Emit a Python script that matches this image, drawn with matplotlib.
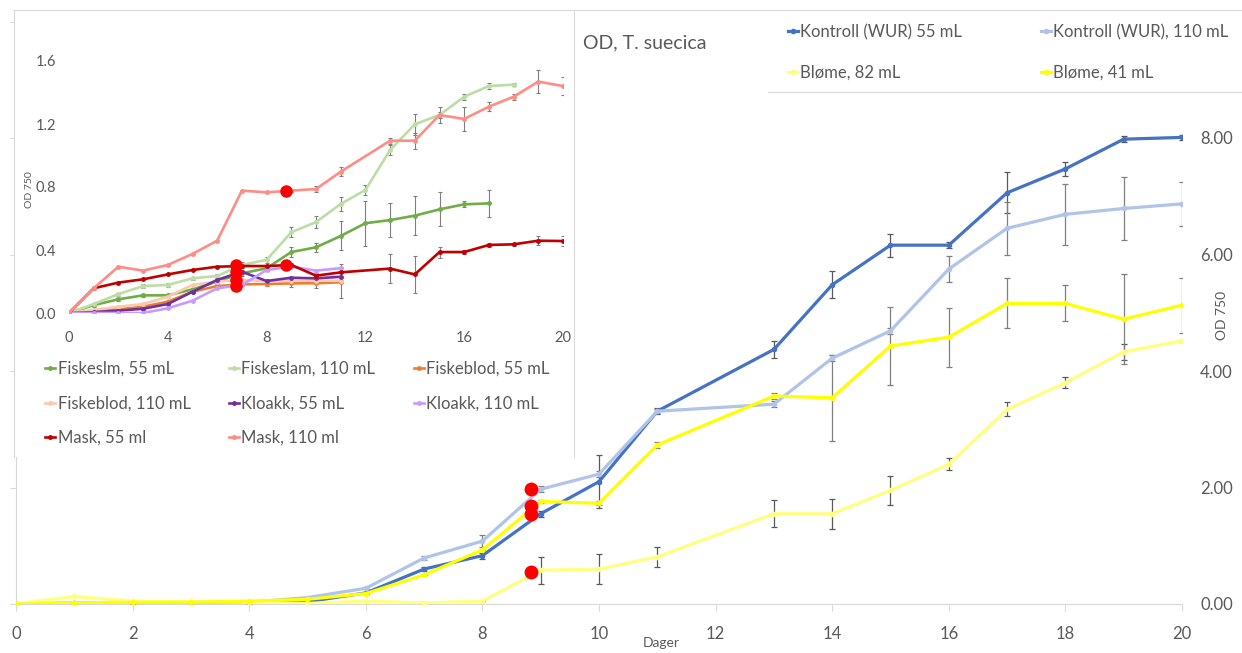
import matplotlib
matplotlib.use('Agg')
import matplotlib.pyplot as plt
from matplotlib.lines import Line2D
from matplotlib.patches import Rectangle

plt.rcParams['font.family'] = ['Lato', 'DejaVu Sans']

W, H = 1242, 653
TXT = '#595959'
AXIS = '#D9D9D9'

# Hovedforsøk, OD 750 (T. suecica)
dager = [0, 1, 2, 3, 4, 5, 6, 7, 8, 9, 10, 11, 13, 14, 15, 16, 17, 18, 19, 20]
kontroll_55 = [0, 0.01, 0.02, 0.02, 0.02, 0.04, 0.19, 0.60, 0.83, 1.55, 2.10, 3.31,
               4.37, 5.48, 6.16, 6.16, 7.06, 7.47, 7.98, 8.01]
kontroll_110 = [0, 0.02, 0.03, 0.03, 0.03, 0.11, 0.27, 0.79, 1.08, 1.97, 2.23, 3.31,
                3.43, 4.22, 4.69, 5.75, 6.45, 6.69, 6.79, 6.87]
blome_82 = [0, 0.13, 0.05, 0.04, 0.03, 0.01, 0.05, 0.02, 0.05, 0.58, 0.60, 0.81,
            1.55, 1.55, 1.95, 2.40, 3.34, 3.80, 4.33, 4.52]
blome_41 = [0, 0.02, 0.03, 0.03, 0.05, 0.08, 0.18, 0.50, 0.93, 1.76, 1.73, 2.73,
            3.57, 3.54, 4.43, 4.58, 5.16, 5.16, 4.89, 5.13]

kontroll_55_sd = [0, 0, 0, 0, 0, 0, 0, 0.03, 0.05, 0.05, 0.45, 0.05,
                  0.14, 0.23, 0.20, 0.05, 0.35, 0.12, 0.05, 0.05]
kontroll_110_sd = [0, 0, 0, 0, 0, 0, 0.02, 0.03, 0.10, 0.05, 0.05, 0.03,
                   0.05, 0.05, 0.05, 0.23, 0.45, 0.52, 0.54, 0.38]
blome_82_sd = [0, 0, 0, 0, 0, 0, 0, 0, 0, 0.23, 0.26, 0.17,
               0.23, 0.26, 0.25, 0.10, 0.12, 0.09, 0.14, 0.02]
blome_41_sd = [0, 0, 0, 0, 0, 0, 0, 0, 0, 0.03, 0.03, 0.05,
               0.05, 0.74, 0.67, 0.51, 0.43, 0.31, 0.77, 0.47]

# Innfelt: andre medier
dager_kort = [0, 1, 2, 3, 4, 5, 6, 7, 8, 9, 10, 11]
dager_slm = [0, 1, 2, 3, 4, 5, 6, 7, 8, 9, 10, 11, 12, 13, 14, 15, 16, 17]
dager_slam = [0, 1, 2, 3, 4, 5, 6, 7, 8, 9, 10, 11, 12, 13, 14, 15, 16, 17, 18]
dager_mask = [0, 1, 2, 3, 4, 5, 6, 7, 8, 9, 10, 11, 13, 14, 15, 16, 17, 18, 19, 20]
fiskeslm_55 = [0, 0.05, 0.087, 0.112, 0.112, 0.15, 0.20, 0.252, 0.284, 0.387, 0.417, 0.489,
               0.57, 0.59, 0.618, 0.658, 0.69, 0.696]
fiskeslam_110 = [0, 0.057, 0.12, 0.171, 0.178, 0.22, 0.235, 0.305, 0.337, 0.513, 0.577, 0.692,
                 0.781, 1.035, 1.198, 1.257, 1.373, 1.441, 1.45]
fiskeblod_55 = [0, 0.01, 0.023, 0.04, 0.072, 0.135, 0.171, 0.182, 0.184, 0.188, 0.189, 0.195]
fiskeblod_110 = [0, 0.02, 0.04, 0.057, 0.104, 0.178, 0.20, 0.21, 0.203, 0.205, 0.205, 0.205]
kloakk_55 = [0, 0.005, 0.015, 0.027, 0.057, 0.135, 0.21, 0.262, 0.203, 0.224, 0.22, 0.23]
kloakk_110 = [0, 0, 0, 0, 0.03, 0.078, 0.157, 0.178, 0.273, 0.294, 0.269, 0.285]
mask_55 = [0, 0.157, 0.193, 0.214, 0.245, 0.273, 0.294, 0.298, 0.298, 0.305, 0.237, 0.258,
           0.282, 0.245, 0.387, 0.387, 0.432, 0.436, 0.459, 0.457]
mask_110 = [0, 0.157, 0.294, 0.269, 0.305, 0.375, 0.459, 0.777, 0.766, 0.777, 0.787, 0.897,
            1.094, 1.094, 1.257, 1.232, 1.31, 1.373, 1.469, 1.441]

fiskeslm_55_sd = [0, 0.01, 0.01, 0.01, 0.01, 0.01, 0.01, 0.02, 0.02, 0.03, 0.03, 0.092,
                  0.143, 0.108, 0.122, 0.108, 0.02, 0.085]
fiskeslam_110_sd = [0, 0, 0.01, 0.01, 0.01, 0.01, 0.01, 0.02, 0.02, 0.03, 0.04, 0.045,
                    0.03, 0.03, 0.067, 0.02, 0.02, 0.02, 0.01]
fiskeblod_55_sd = [0, 0, 0, 0, 0, 0.01, 0.01, 0.01, 0.01, 0.02, 0.03, 0.097]
mask_55_sd = [0, 0, 0, 0, 0, 0, 0, 0, 0, 0.01, 0.02, 0.05,
              0.09, 0.119, 0.035, 0.01, 0.01, 0.01, 0.03, 0.03]
mask_110_sd = [0, 0, 0, 0, 0, 0, 0, 0, 0, 0.01, 0.02, 0.03,
               0.02, 0.05, 0.05, 0.076, 0.03, 0.02, 0.074, 0.06]

# Røde punkter (prøvetaking)
prove_x = [8.83, 8.83, 8.83, 8.83]
prove_y = [1.97, 1.68, 1.545, 0.555]
prove_inn_x = [6.76, 6.76, 6.76, 6.76, 8.79, 8.79]
prove_inn_y = [0.305, 0.26, 0.21, 0.17, 0.305, 0.777]


def fx(px):
    return px / W


def fy(py):
    return 1 - py / H


fig = plt.figure(figsize=(W / 100, H / 100), dpi=100)

# ---------- hovedgraf ----------
ax = fig.add_axes([fx(16), fy(604), (1182 - 16) / W, (604 - 21.5) / H])
ax.set_xlim(0, 20)
ax.set_ylim(0, 10)

hoved = [
    (kontroll_55, kontroll_55_sd, '#4472C4', '#595959', 'Kontroll (WUR) 55 mL'),
    (kontroll_110, kontroll_110_sd, '#AFC4E8', '#7F7F7F', 'Kontroll (WUR), 110 mL'),
    (blome_82, blome_82_sd, '#FFFF80', '#595959', 'Bløme, 82 mL'),
    (blome_41, blome_41_sd, '#FFFF00', '#7F7F7F', 'Bløme, 41 mL'),
]
hoved_linjer = []
for verdier, sd, farge, efarge, navn in hoved:
    ax.errorbar(dager, verdier, yerr=sd, fmt='none', ecolor=efarge,
                elinewidth=0.9, capsize=2, capthick=0.9, zorder=2)
    ln, = ax.plot(dager, verdier, color=farge, lw=2.3, marker='o', ms=3,
                  label=navn, zorder=3)
    hoved_linjer.append(ln)
ax.plot(prove_x, prove_y, 'o', color='#FF0000', ms=10, mec='none', zorder=5)

for side in ['top', 'right']:
    ax.spines[side].set_visible(False)
for side in ['bottom', 'left']:
    ax.spines[side].set_color(AXIS)
ax.set_xticks(range(0, 21, 2))
ax.set_yticks(range(0, 11, 2))
ax.set_yticklabels([f'{v:.2f}' for v in range(0, 9, 2)] + [''])
ax.tick_params(axis='x', length=5, color=AXIS, labelsize=12, labelcolor=TXT, pad=11)
ax.tick_params(axis='y', left=True, right=False, labelleft=False, labelright=True,
               length=4, color=AXIS, labelsize=12, labelcolor=TXT, pad=9)
ax.set_xlabel('Dager', fontsize=10, color=TXT)
ax.xaxis.set_label_coords((661 - 16) / 1166, -(637 - 604) / 582.5)
ax.yaxis.set_label_position('right')
ax.set_ylabel('OD 750', fontsize=10, color=TXT, rotation=90, va='center', ha='center')
ax.yaxis.set_label_coords((1222 - 16) / 1166, (604 - 315) / 582.5)

# ---------- ramme for innfelt graf og tegnforklaring ----------
fig.add_artist(Rectangle((fx(14), fy(457)), (574 - 14) / W, (457 - 10) / H,
                         transform=fig.transFigure, fc='white', ec='none', zorder=1))
fig.add_artist(Rectangle((fx(768), fy(92)), (W - 768) / W, (92 - 10) / H,
                         transform=fig.transFigure, fc='white', ec='none', zorder=1))
for xs, ys in [((14, W), (10, 10)), ((14, 14), (10, 457)), ((574, 574), (10, 457)),
               ((768, W), (92, 92))]:
    fig.add_artist(Line2D([fx(x) for x in xs], [fy(y) for y in ys],
                          color=AXIS, lw=0.8, zorder=1.5))

# ---------- innfelt graf ----------
ins = fig.add_axes([fx(69), fy(313), (563 - 69) / W, (313 - 29.5) / H], zorder=2)
ins.set_facecolor('none')
ins.set_xlim(0, 20)
ins.set_ylim(0, 1.8)

innfelt = [
    (dager_slm, fiskeslm_55, fiskeslm_55_sd, '#70AD47', 'Fiskeslm, 55 mL'),
    (dager_slam, fiskeslam_110, fiskeslam_110_sd, '#BCDDA6', 'Fiskeslam, 110 mL'),
    (dager_kort, fiskeblod_55, fiskeblod_55_sd, '#ED7D31', 'Fiskeblod, 55 mL'),
    (dager_kort, fiskeblod_110, None, '#F8CBAD', 'Fiskeblod, 110 mL'),
    (dager_kort, kloakk_55, None, '#7030A0', 'Kloakk, 55 mL'),
    (dager_kort, kloakk_110, None, '#C59BFF', 'Kloakk, 110 mL'),
    (dager_mask, mask_55, mask_55_sd, '#C00000', 'Mask, 55 ml'),
    (dager_mask, mask_110, mask_110_sd, '#FF8C85', 'Mask, 110 ml'),
]
inn_linjer = []
for xs, verdier, sd, farge, navn in innfelt:
    if sd is not None:
        ins.errorbar(xs, verdier, yerr=sd, fmt='none', ecolor='#7F7F7F',
                     elinewidth=0.8, capsize=1.5, capthick=0.8, zorder=2)
    ln, = ins.plot(xs, verdier, color=farge, lw=1.9, marker='o', ms=2.5,
                   label=navn, zorder=3)
    inn_linjer.append(ln)
ins.plot(prove_inn_x, prove_inn_y, 'o', color='#FF0000', ms=9, mec='none', zorder=5)

for side in ins.spines.values():
    side.set_visible(False)
ins.set_xticks(range(0, 21, 4))
ins.set_yticks([0, 0.4, 0.8, 1.2, 1.6])
ins.set_yticklabels(['0.0', '0.4', '0.8', '1.2', '1.6'])
ins.tick_params(length=0, labelsize=10.5, labelcolor=TXT)
ins.tick_params(axis='x', pad=13)
ins.tick_params(axis='y', pad=9)
ins.set_ylabel('OD 750', fontsize=7.5, color=TXT, va='center', ha='center')
ins.yaxis.set_label_coords((30 - 69) / 494, (313 - 190) / 283.5)

# ---------- tittel og tegnforklaringer ----------
fig.text(fx(583), fy(43), 'OD, T. suecica', fontsize=14, color=TXT,
         ha='left', va='center', zorder=6)

rekkefolge = [0, 2, 1, 3]
fig.legend([hoved_linjer[i] for i in rekkefolge], [hoved[i][4] for i in rekkefolge],
           ncol=2, loc='upper left', bbox_to_anchor=(fx(788), fy(24)),
           frameon=False, borderpad=0, borderaxespad=0, fontsize=12,
           labelcolor=TXT, handlelength=0.6, handletextpad=0.15,
           columnspacing=4.7, labelspacing=1.5)

rekkefolge = [0, 3, 6, 1, 4, 7, 2, 5]
fig.legend([inn_linjer[i] for i in rekkefolge], [innfelt[i][4] for i in rekkefolge],
           ncol=3, loc='upper left', bbox_to_anchor=(fx(45), fy(361)),
           frameon=False, borderpad=0, borderaxespad=0, fontsize=12,
           labelcolor=TXT, handlelength=0.6, handletextpad=0.15,
           columnspacing=2.3, labelspacing=1.1)

fig.savefig('out.png', dpi=100)
